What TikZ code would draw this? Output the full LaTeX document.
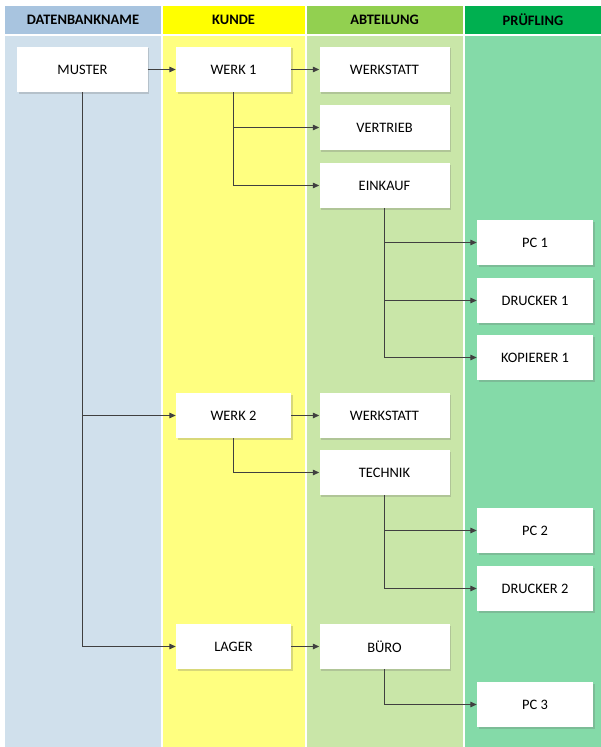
\documentclass[tikz,border=0pt]{standalone}
\usepackage{fontspec}
\setmainfont{Carlito}
\usetikzlibrary{arrows.meta,shadows}
\definecolor{hdA}{HTML}{A8C4DF}
\definecolor{bdA}{HTML}{D0E0EC}
\definecolor{hdB}{HTML}{FFFF00}
\definecolor{bdB}{HTML}{FFFF80}
\definecolor{hdC}{HTML}{92D050}
\definecolor{bdC}{HTML}{C9E6A8}
\definecolor{hdD}{HTML}{00B050}
\definecolor{bdD}{HTML}{84DAA8}
\definecolor{conn}{HTML}{404040}
\begin{document}
\begin{tikzpicture}[x=1bp,y=-1bp,
  boxnode/.style={fill=white, minimum height=45bp, inner sep=0pt,
    font=\fontsize{14.5}{16}\selectfont,
    drop shadow={shadow xshift=1.5bp, shadow yshift=-1.5bp, opacity=0.25, fill=black!60}},
  wbox/.style={boxnode, minimum width=130bp},
  nbox/.style={boxnode, minimum width=115bp},
  pbox/.style={boxnode, minimum width=116bp},
  hdr/.style={font=\bfseries\fontsize{14.5}{16}\selectfont},
  link/.style={draw=conn, line width=1.2bp, -{Triangle[length=6.5bp,width=5.5bp]}}]
\useasboundingbox (0,0) rectangle (601,747);
\fill[white] (0,0) rectangle (601,747);
% columns
\fill[hdA] (5,6) rectangle (160.5,34);
\fill[bdA] (5,36) rectangle (160.5,747);
\fill[hdB] (162.5,6) rectangle (304.5,34);
\fill[bdB] (162.5,36) rectangle (304.5,747);
\fill[hdC] (306.5,6) rectangle (462.5,34);
\fill[bdC] (306.5,36) rectangle (462.5,747);
\fill[hdD] (464.5,6) rectangle (601,34);
\fill[bdD] (464.5,36) rectangle (601,747);
\node[hdr] (h1) at (83,20) {DATENBANKNAME};
\node[hdr] (h2) at (233.5,20) {KUNDE};
\node[hdr] (h3) at (384.5,20) {ABTEILUNG};
\node[hdr] (h4) at (533,20) {PRÜFLING};
% boxes
\node[wbox] (muster) at (82.5,69.5) {MUSTER};
\node[nbox] (werkA) at (233.5,69.5) {WERK 1};
\node[wbox] (werkstattA) at (384.5,69.5) {WERKSTATT};
\node[wbox] (vertrieb) at (384.5,127.5) {VERTRIEB};
\node[wbox] (einkauf) at (384.5,185.5) {EINKAUF};
\node[pbox] (pc1) at (535,242.5) {PC 1};
\node[pbox] (drucker1) at (535,300.5) {DRUCKER 1};
\node[pbox] (kopierer1) at (535,357.5) {KOPIERER 1};
\node[nbox] (werkB) at (233.5,415.5) {WERK 2};
\node[wbox] (werkstattB) at (384.5,415.5) {WERKSTATT};
\node[wbox] (technik) at (384.5,472.5) {TECHNIK};
\node[pbox] (pc2) at (535,530.5) {PC 2};
\node[pbox] (drucker2) at (535,588.5) {DRUCKER 2};
\node[nbox] (lager) at (233.5,646.5) {LAGER};
\node[wbox] (buero) at (384.5,646.5) {BÜRO};
\node[pbox] (pc3) at (535,704.5) {PC 3};
% connectors
\draw[link] (muster) -- (werkA);
\draw[link] (werkA) -- (werkstattA);
\draw[link] (werkA.south) |- (vertrieb.west);
\draw[link] (werkA.south) |- (einkauf.west);
\draw[link] (einkauf.south) |- (pc1.west);
\draw[link] (einkauf.south) |- (drucker1.west);
\draw[link] (einkauf.south) |- (kopierer1.west);
\draw[link] (muster.south) |- (werkB.west);
\draw[link] (muster.south) |- (lager.west);
\draw[link] (werkB) -- (werkstattB);
\draw[link] (werkB.south) |- (technik.west);
\draw[link] (technik.south) |- (pc2.west);
\draw[link] (technik.south) |- (drucker2.west);
\draw[link] (lager) -- (buero);
\draw[link] (buero.south) |- (pc3.west);
\end{tikzpicture}
\end{document}
